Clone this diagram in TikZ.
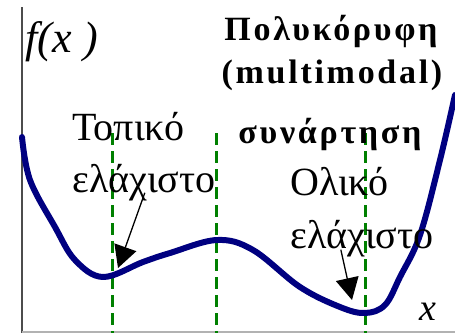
\documentclass[tikz,border=0pt]{standalone}
\usepackage{fontspec}
\setmainfont{Liberation Serif}
\newfontfamily\spacedbf[LetterSpace=8]{Liberation Serif Bold}
\usetikzlibrary{arrows.meta, calc}

\begin{document}
\begin{tikzpicture}[x=1pt, y=-1pt, >=latex,
	curve/.style={line width=6pt, color=navyblue, line join=round, line cap=round},
	guide/.style={line width=3pt, color=darkgreen, dash pattern=on 12pt off 6pt},
	axisline/.style={line width=1.4pt, color=black!70},
	arrow/.style={-{Triangle[length=22pt, width=23pt]}, line width=1.3pt},
	txt/.style={font=\fontsize{40}{40}\selectfont, inner sep=0pt, anchor=base west},
	title/.style={font=\fontsize{34}{34}\spacedbf, inner sep=0pt, anchor=base}]
	\definecolor{navyblue}{RGB}{0,0,128}
	\definecolor{darkgreen}{RGB}{0,128,0}
	\useasboundingbox (0,0) rectangle (455,333);
	
	% axes
	\draw[axisline] (22,7) -- (22,333);
	\draw[line width=1.2pt, black!30] (22,332) -- (455,332);
	
	% vertical guides
	\draw[guide] (112,133) -- (112,333);
	\draw[guide] (216,133) -- (216,333);
	\draw[guide] (365,133) -- (365,333);
	
	% the function
	\draw[curve] plot[smooth, tension=0.6] coordinates {(22,137) (30,180) (55,227) (75,260) (103,277)
		(143,262) (170,253) (217,240) (253,250) (300,287) (340,307) (365,313) (385,305)
		(400,277) (420,235) (440,160) (455,95)};
	
	\node[font=\fontsize{44}{44}\selectfont\itshape, inner sep=0pt, anchor=base west] (fx) at (25,52) {f(x\;)};
	\node[font=\fontsize{38}{38}\selectfont\itshape, inner sep=0pt, anchor=base west] (xlab) at (419,320) {x};
	
	\node[title] (title1) at (331,40) {Πολυκόρυφη};
	\node[title] (title2) at (332,83) {(multimodal)};
	\node[title] (title3) at (330,143) {συνάρτηση};
	
	\node[txt] (loc1) at (72,140) {Τοπικό};
	\node[txt] (loc2) at (72,192) {ελάχιστο};
	\node[txt] (glob1) at (290,195) {Ολικό};
	\node[txt] (glob2) at (290,248) {ελάχιστο};
	
	\coordinate (locmin) at (118,268);
	\coordinate (globmin) at (352,300);
	\draw[arrow] ([xshift=1pt, yshift=8pt]loc2.south) -- (locmin);
	\draw[arrow] ([xshift=-21pt, yshift=7pt]glob2.south) -- (globmin);
\end{tikzpicture}
\end{document}
